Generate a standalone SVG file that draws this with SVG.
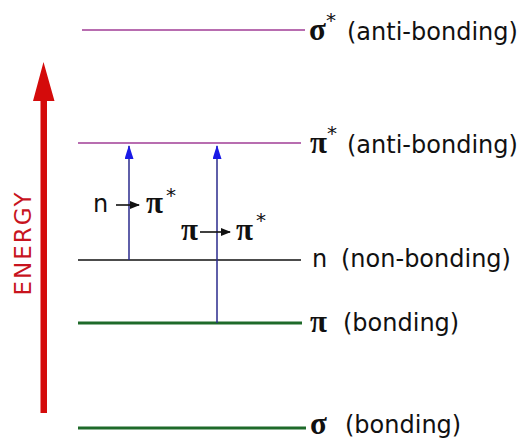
<svg xmlns="http://www.w3.org/2000/svg" width="529" height="440" viewBox="0 0 529 440">
<defs>
<style>
.lbl{font-family:"DejaVu Sans","Verdana",sans-serif;font-size:24px;fill:#111}
.gr{font-family:"Liberation Serif","Times New Roman",serif;font-weight:bold;font-size:31px;fill:#111}
.star{font-family:"DejaVu Sans",sans-serif;font-size:20px;fill:#111}
.anti{stroke:#a03c96;stroke-width:1.6}
.bond{stroke:#1e6a2a;stroke-width:3.2}
.non{stroke:#111;stroke-width:1.5}
.trans{stroke:#2a2a8c;stroke-width:1.5;fill:none}
</style>
<marker id="bh" viewBox="0 0 14 9" refX="13" refY="4.5" markerWidth="14" markerHeight="9" markerUnits="userSpaceOnUse" orient="auto">
<path d="M0 0 L14 4.5 L0 9 Z" fill="#1a1ae6"/>
</marker>
<marker id="kh" viewBox="0 0 10 8" refX="9" refY="4" markerWidth="10" markerHeight="8" markerUnits="userSpaceOnUse" orient="auto">
<path d="M0 0 L10 4 L0 8 Z" fill="#111"/>
</marker>
</defs>
<rect width="529" height="440" fill="#fff"/>

<g id="sigma-star">
<line class="anti" x1="82" y1="30" x2="305" y2="30"/>
<text class="gr" x="309" y="40">σ</text>
<text class="star" x="326" y="27">*</text>
<text class="lbl" x="347" y="40">(anti-bonding)</text>
</g>

<g id="pi-star">
<line class="anti" x1="78" y1="143" x2="301" y2="143"/>
<text class="gr" x="310" y="153">π</text>
<text class="star" x="327" y="140">*</text>
<text class="lbl" x="347" y="153">(anti-bonding)</text>
</g>

<g id="n-nonbonding">
<line class="non" x1="78" y1="260" x2="301" y2="260"/>
<text class="lbl" x="312" y="267">n</text>
<text class="lbl" x="341" y="267">(non-bonding)</text>
</g>

<g id="pi-bonding">
<line class="bond" x1="78" y1="323" x2="302" y2="323"/>
<text class="gr" x="310" y="332">π</text>
<text class="lbl" x="343" y="331">(bonding)</text>
</g>

<g id="sigma-bonding">
<line class="bond" x1="78" y1="428" x2="306" y2="428"/>
<text class="gr" x="310" y="434">σ</text>
<text class="lbl" x="345" y="433">(bonding)</text>
</g>

<g id="energy-axis">
<path d="M40.5 413 L40.5 101 L33 101 L43.5 62 L54.5 101 L47 101 L47 413 Z" fill="#d40b0b"/>
<text x="0" y="0" transform="translate(31,243) rotate(-90)" text-anchor="middle" font-family="DejaVu Sans, Verdana, sans-serif" font-size="23" letter-spacing="2" fill="#c8141e">ENERGY</text>
</g>

<g id="connectors">
<line class="trans" x1="129" y1="260" x2="129" y2="146" marker-end="url(#bh)"/>
<line class="trans" x1="217" y1="323" x2="217" y2="146" marker-end="url(#bh)"/>
</g>

<g id="label-n-pi">
<text class="lbl" x="93" y="212">n</text>
<line x1="116" y1="205" x2="139" y2="205" stroke="#111" stroke-width="1.6" marker-end="url(#kh)"/>
<text class="gr" x="146" y="213">π</text>
<text class="star" x="166" y="202">*</text>
</g>

<g id="label-pi-pi">
<text class="gr" x="181" y="240">π</text>
<line x1="200" y1="232" x2="230" y2="232" stroke="#111" stroke-width="1.6" marker-end="url(#kh)"/>
<text class="gr" x="236" y="240">π</text>
<text class="star" x="256" y="227">*</text>
</g>
</svg>
